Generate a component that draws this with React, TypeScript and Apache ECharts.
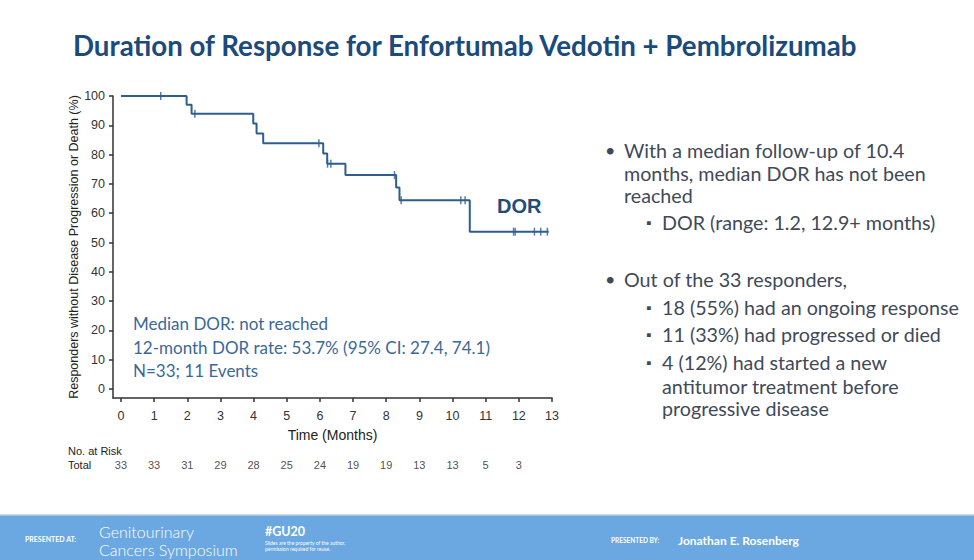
import React, { useEffect, useRef } from "react";
import * as echarts from "echarts";

// ---- data ----
const kmSteps: [number, number][] = [
  [0, 100], [1.98, 97.0], [2.13, 93.9], [3.99, 90.6], [4.09, 87.2], [4.29, 83.9],
  [6.10, 80.4], [6.22, 76.9], [6.77, 73.0], [8.30, 68.8], [8.40, 64.4],
  [10.52, 53.7], [12.9, 53.7],
];
const censored: [number, number][] = [
  [1.2, 100], [2.23, 93.9], [5.97, 83.9], [6.23, 76.9], [6.33, 76.9], [8.25, 73.0],
  [8.45, 64.4], [10.25, 64.4], [10.38, 64.4], [11.84, 53.7], [11.89, 53.7],
  [12.47, 53.7], [12.66, 53.7], [12.86, 53.7],
];
const xTicks = [0, 1, 2, 3, 4, 5, 6, 7, 8, 9, 10, 11, 12, 13];
const yTicks = [0, 10, 20, 30, 40, 50, 60, 70, 80, 90, 100];
const riskMonths = [0, 1, 2, 3, 4, 5, 6, 7, 8, 9, 10, 11, 12];
const riskCounts = [33, 33, 31, 29, 28, 25, 24, 19, 19, 13, 13, 5, 3];

const titleText = "Duration of Response for Enfortumab Vedotin + Pembrolizumab";
const annotationLines = [
  "Median DOR: not reached",
  "12-month DOR rate: 53.7% (95% CI: 27.4, 74.1)",
  "N=33; 11 Events",
];
const bulletLines: { level: number; bullet: boolean; text: string }[] = [
  { level: 1, bullet: true, text: "With a median follow-up of 10.4" },
  { level: 1, bullet: false, text: "months, median DOR has not been" },
  { level: 1, bullet: false, text: "reached" },
  { level: 2, bullet: true, text: "DOR (range: 1.2, 12.9+ months)" },
  { level: 1, bullet: true, text: "Out of the 33 responders," },
  { level: 2, bullet: true, text: "18 (55%) had an ongoing response" },
  { level: 2, bullet: true, text: "11 (33%) had progressed or died" },
  { level: 2, bullet: true, text: "4 (12%) had started a new" },
  { level: 2, bullet: false, text: "antitumor treatment before" },
  { level: 2, bullet: false, text: "progressive disease" },
];
const bulletY = [150, 173, 195, 222, 279, 307, 334, 362, 386, 408];
const annotationY = [323, 347, 370];

const LINE = "#2e5e8e";
const AXIS = "#333333";
const ARIAL = "'Liberation Sans', Arial, sans-serif";
const BODY = "Lato, 'Open Sans', sans-serif";

export default function App() {
  const ref = useRef<HTMLDivElement>(null);
  useEffect(() => {
    document.body.style.margin = "0";
    if (!ref.current) return;
    const chart = echarts.init(ref.current, null, { renderer: "svg" });

    const graphics: any[] = [];
    graphics.push({
      type: "text", x: 73, y: 45,
      style: { text: titleText, fill: "#1b4a7c", font: `bold 27.7px ${BODY}`, verticalAlign: "middle" },
    });
    annotationLines.forEach((t, i) => {
      graphics.push({
        type: "text", x: 133, y: annotationY[i],
        style: { text: t, fill: "#3a6898", font: `17px ${BODY}`, verticalAlign: "middle" },
      });
    });
    graphics.push({
      type: "text", x: 497, y: 206,
      style: { text: "DOR", fill: "#1f4d7a", font: `bold 20px ${ARIAL}`, verticalAlign: "middle" },
    });
    graphics.push({
      type: "text", x: 68, y: 451,
      style: { text: "No. at Risk", fill: "#222", font: `11px ${ARIAL}`, verticalAlign: "middle" },
    });
    graphics.push({
      type: "text", x: 68, y: 465,
      style: { text: "Total", fill: "#222", font: `11px ${ARIAL}`, verticalAlign: "middle" },
    });
    bulletLines.forEach((b, i) => {
      const tx = b.level === 1 ? 624 : 662;
      if (b.bullet) {
        graphics.push({
          type: "text", x: b.level === 1 ? 605 : 646, y: bulletY[i],
          style: {
            text: b.level === 1 ? "•" : "▪", fill: "#3f4a58",
            font: `${b.level === 1 ? 18 : 14}px ${BODY}`, verticalAlign: "middle",
          },
        });
      }
      graphics.push({
        type: "text", x: tx, y: bulletY[i],
        style: { text: b.text, fill: "#3f4a58", font: `19.7px ${BODY}`, verticalAlign: "middle" },
      });
    });
    // footer band
    graphics.push({ type: "rect", shape: { x: 0, y: 514, width: 974, height: 1.5 }, style: { fill: "#d0d6dc" } });
    graphics.push({ type: "rect", shape: { x: 0, y: 515.5, width: 974, height: 45 }, style: { fill: "#6ba7e0" } });
    const footer = [
      { x: 25, y: 539, text: "PRESENTED AT:", font: `bold 7px ${BODY}` },
      { x: 99, y: 531, text: "Genitourinary", font: `300 16px ${BODY}` },
      { x: 99, y: 549, text: "Cancers Symposium", font: `300 16px ${BODY}` },
      { x: 265, y: 531, text: "#GU20", font: `bold 12.5px ${BODY}` },
      { x: 265, y: 543, text: "Slides are the property of the author,", font: `5px ${BODY}` },
      { x: 265, y: 548.5, text: "permission required for reuse.", font: `5px ${BODY}` },
      { x: 611, y: 540, text: "PRESENTED BY:", font: `bold 6.5px ${BODY}` },
      { x: 678, y: 540, text: "Jonathan E. Rosenberg", font: `bold 12px ${BODY}` },
    ];
    footer.forEach((f) =>
      graphics.push({
        type: "text", x: f.x, y: f.y,
        style: { text: f.text, fill: "#ffffff", font: f.font, verticalAlign: "middle" },
      })
    );

    chart.setOption({
      animation: false,
      backgroundColor: "#ffffff",
      grid: [
        { left: 113, top: 96, width: 439, height: 302 },
        { left: 113, top: 458, width: 439, height: 14 },
      ],
      xAxis: [
        {
          type: "value", gridIndex: 0, min: -0.24, max: 13,
          name: "Time (Months)", nameLocation: "middle", nameGap: 30,
          nameTextStyle: { fontFamily: ARIAL, fontSize: 14, color: "#222" },
          axisLine: { show: true, onZero: false, lineStyle: { color: AXIS, width: 1.5 } },
          axisTick: { show: true, customValues: xTicks, length: 4, lineStyle: { color: AXIS, width: 1.5 } },
          axisLabel: { customValues: xTicks, fontFamily: ARIAL, fontSize: 12.5, color: "#333", margin: 11 },
          splitLine: { show: false },
        },
        { type: "value", gridIndex: 1, min: -0.24, max: 13, show: false },
      ],
      yAxis: [
        {
          type: "value", gridIndex: 0, min: -3.07, max: 100,
          name: "Responders without Disease Progression or Death (%)",
          nameLocation: "middle", nameGap: 33, nameRotate: 90,
          nameTextStyle: { fontFamily: ARIAL, fontSize: 12.5, color: "#222" },
          axisLine: { show: true, onZero: false, lineStyle: { color: AXIS, width: 1.5 } },
          axisTick: { show: true, customValues: yTicks, length: 4, lineStyle: { color: AXIS, width: 1.5 } },
          axisLabel: { customValues: yTicks, fontFamily: ARIAL, fontSize: 12.5, color: "#333", margin: 8 },
          splitLine: { show: false },
        },
        { type: "value", gridIndex: 1, min: 0, max: 1, show: false },
      ],
      series: [
        {
          type: "line", xAxisIndex: 0, yAxisIndex: 0, step: "end",
          data: kmSteps, symbol: "none",
          lineStyle: { color: LINE, width: 2 },
        },
        {
          type: "scatter", xAxisIndex: 0, yAxisIndex: 0,
          data: censored, symbol: "rect", symbolSize: [1.5, 8],
          itemStyle: { color: LINE },
        },
        {
          type: "scatter", xAxisIndex: 1, yAxisIndex: 1,
          data: riskMonths.map((m, i) => [m, 0.5, riskCounts[i]]),
          symbolSize: 1, itemStyle: { color: "rgba(0,0,0,0)" },
          label: {
            show: true, position: "inside",
            formatter: (p: any) => String(p.value[2]),
            fontFamily: ARIAL, fontSize: 11, color: "#222",
          },
        },
      ],
      graphic: graphics,
    });
    return () => chart.dispose();
  }, []);
  return <div ref={ref} style={{ width: 974, height: 560 }} />;
}
